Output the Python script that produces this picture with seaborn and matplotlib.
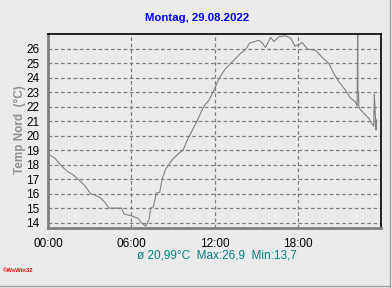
import matplotlib
matplotlib.use("Agg")
import matplotlib.pyplot as plt
from matplotlib.ticker import MultipleLocator, FixedLocator
import seaborn as sns
import pandas as pd

# --- data ---
hours = [0.00, 0.10, 0.25, 0.50, 0.80, 1.15, 1.45, 1.75, 2.05, 2.35, 2.70, 3.07,
         3.40, 3.80, 4.10, 4.40, 4.90, 5.30, 5.48, 6.07, 6.50, 6.68, 7.04, 7.28,
         7.40, 7.60, 7.80, 8.05, 8.24, 8.48, 8.96, 9.44, 9.73, 10.04, 10.52, 10.88,
         11.24, 11.60, 11.96, 12.32, 12.80, 13.28, 13.88, 14.24, 14.53, 14.85, 15.20,
         15.44, 15.68, 16.04, 16.28, 16.64, 17.12, 17.48, 17.80, 18.10, 18.32, 18.68,
         19.28, 19.88, 20.24, 20.60, 20.96, 21.44, 21.80, 22.16, 22.28, 22.32, 22.34,
         22.38, 22.40, 22.52, 22.88, 23.12, 23.48, 23.52, 23.56, 23.64, 23.68]
temps = [19.0, 18.7, 18.6, 18.45, 18.1, 17.75, 17.5, 17.35, 17.1, 16.85, 16.5, 16.0,
         15.9, 15.7, 15.4, 15.0, 15.0, 15.0, 14.6, 14.45, 14.3, 14.05, 13.75, 14.2,
         15.0, 15.1, 16.05, 16.1, 17.05, 17.7, 18.35, 18.8, 19.0, 19.7, 20.6, 21.3,
         22.05, 22.45, 23.15, 23.95, 24.65, 25.1, 25.7, 25.95, 26.4, 26.5, 26.6,
         26.4, 26.1, 26.8, 26.5, 26.85, 26.9, 26.75, 26.2, 26.3, 26.45, 26.0,
         25.9, 25.3, 25.0, 24.3, 23.75, 23.15, 22.6, 22.35, 22.05, 27.1, 23.1,
         23.0, 22.0, 21.8, 21.45, 21.2, 20.65, 22.85, 22.1, 20.4, 21.1]

title = "Montag, 29.08.2022"
ylabel = "Temp Nord  (°C)"
stats = "ø 20,99°C  Max:26,9  Min:13,7"
credit = "©WsWin32"
xtick_pos = [0, 6, 12, 18]
xtick_labels = ["00:00", "06:00", "12:00", "18:00"]
ytick_pos = list(range(14, 27))

sns.set_style("white")
plt.rcParams['font.family'] = ['Liberation Sans', 'DejaVu Sans']

bg = "#EBEBEB"
fig = plt.figure(figsize=(3.92, 2.88), dpi=100, facecolor=bg)
ax = fig.add_axes([48/392, 1-228/288, 333/392, 194/288])
ax.set_facecolor(bg)

df = pd.DataFrame({"h": hours, "t": temps})
sns.lineplot(data=df, x="h", y="t", ax=ax, color="#808080", linewidth=0.8, sort=False)

ax.set_xlim(0, 24)
ax.set_ylim(13.63, 27.03)
ax.set_xlabel("")
ax.set_ylabel("")

ax.xaxis.set_major_locator(FixedLocator(xtick_pos))
ax.set_xticklabels(xtick_labels)
ax.xaxis.set_minor_locator(MultipleLocator(1.5))
ax.yaxis.set_major_locator(FixedLocator(ytick_pos))
ax.yaxis.set_minor_locator(MultipleLocator(0.5))

ax.tick_params(axis="both", which="major", direction="out", length=4, width=1,
               color="#808080", labelsize=8.5, labelcolor="black", pad=2)
ax.tick_params(axis="both", which="minor", direction="out", length=3, width=1,
               color="#808080")
ax.tick_params(axis="x", which="major", pad=3)

ax.grid(True, which="major", color="#808080", linestyle=(0, (3, 2)), linewidth=0.9)

for side in ["top", "right"]:
    ax.spines[side].set_color("black")
    ax.spines[side].set_linewidth(1.2)
for side in ["left", "bottom"]:
    ax.spines[side].set_color("#808080")
    ax.spines[side].set_linewidth(2)
    ax.spines[side].set_visible(True)

fig.text(197/392, 1-18/288, title, color="#0000FF", fontsize=8.2, fontweight="bold",
         ha="center", va="center")
fig.text(20/392, 1-130/288, ylabel, color="#909090", fontsize=8.5, fontweight="bold",
         rotation=90, ha="center", va="center")
fig.text(217/392, 1-256/288, stats, color="#008080", fontsize=8.5,
         ha="center", va="center")
fig.text(3/392, 1-271/288, credit, color="red", fontsize=4.2, fontweight="bold",
         ha="left", va="center")

# outer frame lines (right & bottom)
fig.add_artist(plt.Line2D([390/392, 390/392], [1/288, 1], color="#A0A0A0", linewidth=1,
                          transform=fig.transFigure))
fig.add_artist(plt.Line2D([0, 390/392], [2/288, 2/288], color="#A0A0A0", linewidth=1,
                          transform=fig.transFigure))

fig.savefig("out.png", dpi=100, facecolor=bg)
